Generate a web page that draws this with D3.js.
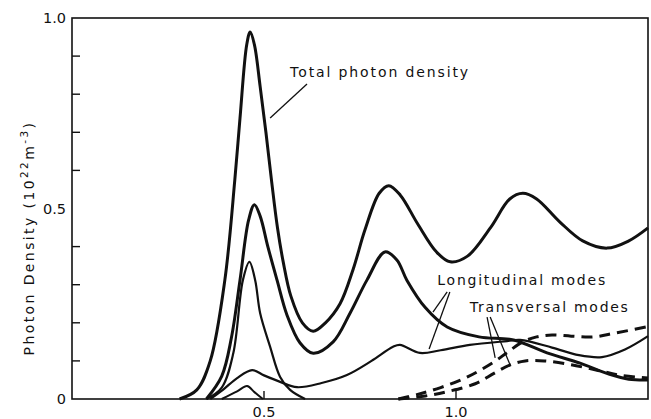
<!DOCTYPE html>
<html>
<head>
<meta charset="utf-8">
<script src="https://cdn.jsdelivr.net/npm/d3@7"></script>
<style>
  body { margin: 0; background: #fff; }
  svg text { font-family: "DejaVu Sans", sans-serif; fill: #111; }
</style>
</head>
<body>
<div id="chart"></div>
<script>
// photon density curves (x, density in 1e22 m^-3)
const totalDensity = [[0.28,0],[0.325,0.024],[0.36,0.1],[0.398,0.312],[0.424,0.575],[0.4375,0.737],[0.455,0.93],[0.464,0.963],[0.475,0.93],[0.49,0.82],[0.505,0.70],[0.52,0.57],[0.535,0.45],[0.55,0.36],[0.57,0.27],[0.60,0.2],[0.628,0.178],[0.66,0.2],[0.698,0.25],[0.732,0.34],[0.763,0.444],[0.80,0.54],[0.825,0.56],[0.855,0.535],[0.90,0.46],[0.95,0.385],[0.985,0.36],[1.03,0.375],[1.09,0.45],[1.14,0.525],[1.174,0.54],[1.21,0.525],[1.27,0.465],[1.33,0.415],[1.393,0.396],[1.45,0.415],[1.5,0.449]];
const longMode1 = [[0.35,0],[0.39,0.06],[0.415,0.16],[0.4375,0.312],[0.46,0.47],[0.475,0.51],[0.49,0.48],[0.51,0.4],[0.534,0.312],[0.56,0.22],[0.594,0.147],[0.628,0.12],[0.68,0.15],[0.724,0.225],[0.768,0.312],[0.815,0.386],[0.846,0.365],[0.872,0.312],[0.92,0.24],[0.977,0.189],[1.06,0.163],[1.15,0.155],[1.237,0.121],[1.323,0.094],[1.40,0.065],[1.45,0.052],[1.5,0.05]];
const longMode2 = [[0.36,0],[0.393,0.024],[0.43,0.055],[0.469,0.076],[0.5,0.062],[0.542,0.045],[0.586,0.031],[0.65,0.042],[0.716,0.063],[0.78,0.1],[0.836,0.137],[0.854,0.142],[0.906,0.121],[0.96,0.128],[1.036,0.142],[1.133,0.152],[1.167,0.155],[1.25,0.135],[1.32,0.115],[1.38,0.11],[1.44,0.13],[1.5,0.165]];
const longMode3 = [[0.35,0],[0.39,0.03],[0.42,0.12],[0.445,0.312],[0.462,0.36],[0.477,0.312],[0.49,0.225],[0.516,0.137],[0.542,0.058],[0.568,0.024],[0.607,0]];
const longMode4 = [[0.39,0],[0.43,0.02],[0.456,0.034],[0.475,0.018],[0.497,0]];
const transMode1 = [[0.85,0],[0.90,0.012],[0.96,0.03],[1.03,0.058],[1.10,0.098],[1.133,0.122],[1.174,0.15],[1.21,0.163],[1.25,0.168],[1.30,0.165],[1.357,0.163],[1.414,0.173],[1.5,0.19]];
const transMode2 = [[0.85,0],[0.92,0.008],[0.98,0.02],[1.05,0.04],[1.10,0.068],[1.14,0.089],[1.18,0.1],[1.23,0.1],[1.30,0.09],[1.37,0.075],[1.43,0.062],[1.5,0.055]];

const yTickLabels = [[0,'0'],[0.5,'0.5'],[1.0,'1.0']];
const yMinorTicks = [0.1,0.2,0.3,0.4,0.6,0.7,0.8,0.9];
const xTickLabels = [[0.5,'0.5'],[1.0,'1.0']];

// labels with their leader lines (data units)
const notes = [
  { text: 'Total photon density', at: [0.568,0.845], width: 178, lines: [[[0.612,0.827],[0.516,0.7375]]] },
  { text: 'Longitudinal modes', at: [0.951,0.299], width: 168, lines: [[[0.977,0.281],[0.940,0.228]],[[0.984,0.281],[0.930,0.131]]] },
  { text: 'Transversal modes', at: [1.036,0.228], width: 158, lines: [[[1.081,0.215],[1.102,0.108]],[[1.089,0.215],[1.141,0.089]]] }
];

const width = 651, height = 419;
const margin = { top: 18, right: 3, bottom: 20, left: 72 };

const svg = d3.select('#chart').append('svg')
  .attr('width', width)
  .attr('height', height);

const x = d3.scaleLinear().domain([0, 1.5]).range([margin.left, width - margin.right]);
const y = d3.scaleLinear().domain([0, 1.0]).range([height - margin.bottom, margin.top]);

const line = d3.line()
  .x(d => x(d[0]))
  .y(d => y(d[1]))
  .curve(d3.curveCatmullRom.alpha(0.5));

// frame
svg.append('rect')
  .attr('x', x(0)).attr('y', y(1))
  .attr('width', x(1.5) - x(0)).attr('height', y(0) - y(1))
  .attr('fill', 'none').attr('stroke', '#111').attr('stroke-width', 1.6);

// y ticks (inward)
svg.append('g').selectAll('line')
  .data(yMinorTicks)
  .join('line')
  .attr('x1', x(0)).attr('x2', x(0) + 8)
  .attr('y1', d => y(d)).attr('y2', d => y(d))
  .attr('stroke', '#111').attr('stroke-width', 1.4);

svg.append('g').selectAll('text')
  .data(yTickLabels)
  .join('text')
  .attr('x', x(0) - 6)
  .attr('y', d => y(d[0]) + 5)
  .attr('text-anchor', 'end')
  .attr('font-size', 14.5)
  .text(d => d[1]);

// x ticks
svg.append('g').selectAll('line')
  .data(xTickLabels)
  .join('line')
  .attr('x1', d => x(d[0])).attr('x2', d => x(d[0]))
  .attr('y1', y(0)).attr('y2', y(0) - 8)
  .attr('stroke', '#111').attr('stroke-width', 1.4);

svg.append('g').selectAll('text')
  .data(xTickLabels)
  .join('text')
  .attr('x', d => x(d[0]))
  .attr('y', y(0) + 18)
  .attr('text-anchor', 'middle')
  .attr('font-size', 14.5)
  .text(d => d[1]);

// y axis title
const title = svg.append('text')
  .attr('transform', 'translate(34,' + 238 + ') rotate(-90)')
  .attr('text-anchor', 'middle')
  .attr('font-size', 14)
  .attr('letter-spacing', 2.4);
title.append('tspan').text('Photon Density  (10');
title.append('tspan').attr('font-size', 10.5).attr('dy', -6).text('22');
title.append('tspan').attr('dy', 6).text('m');
title.append('tspan').attr('font-size', 10.5).attr('dy', -6).text('-3');
title.append('tspan').attr('dy', 6).text(')');

// curves
const solid = [
  { data: totalDensity, w: 3 },
  { data: longMode1, w: 3 },
  { data: longMode2, w: 2.2 },
  { data: longMode3, w: 2.2 },
  { data: longMode4, w: 2 }
];
svg.append('g').selectAll('path')
  .data(solid)
  .join('path')
  .attr('d', d => line(d.data))
  .attr('fill', 'none')
  .attr('stroke', '#111')
  .attr('stroke-width', d => d.w)
  .attr('stroke-linejoin', 'round');

svg.append('g').selectAll('path')
  .data([transMode1, transMode2])
  .join('path')
  .attr('d', d => line(d))
  .attr('fill', 'none')
  .attr('stroke', '#111')
  .attr('stroke-width', 3)
  .attr('stroke-dasharray', '11,7');

// annotations
notes.forEach(function(n){
  svg.append('text')
    .attr('x', x(n.at[0]))
    .attr('y', y(n.at[1]))
    .attr('font-size', 14)
    .attr('textLength', n.width)
    .attr('lengthAdjust', 'spacing')
    .text(n.text);
  n.lines.forEach(function(l){
    svg.append('line')
      .attr('x1', x(l[0][0])).attr('y1', y(l[0][1]))
      .attr('x2', x(l[1][0])).attr('y2', y(l[1][1]))
      .attr('stroke', '#111').attr('stroke-width', 1.3);
  });
});
</script>
</body>
</html>
